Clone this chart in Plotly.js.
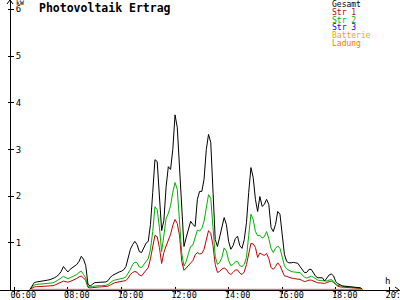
<!DOCTYPE html>
<html><head><meta charset="utf-8">
<script src="https://cdn.plot.ly/plotly-3.0.1.min.js"></script>
<style>html,body{margin:0;padding:0;background:#fff}#chart{width:400px;height:300px}</style>
</head><body><div id="chart"></div>
<script>
// ---- data (kW), sampled every 5 minutes from 06:35 ----
const DAY = '2024-06-15 ';
const firstSample = '06:35';
const sampleStepMin = 5;

const gesamt = [
  0, 0.08, 0.15, 0.16, 0.165, 0.17, 0.18, 0.19, 0.20, 0.21, 0.225, 0.25,
  0.28, 0.32, 0.385, 0.49, 0.43, 0.375, 0.43, 0.47, 0.50, 0.535, 0.60, 0.71,
  0.65, 0.51, 0.11, 0.075, 0.11, 0.145, 0.15, 0.15, 0.15, 0.155, 0.16, 0.19,
  0.26, 0.30, 0.33, 0.36, 0.375, 0.39, 0.42, 0.49, 0.66, 0.86, 0.96, 1.03,
  0.96, 0.81, 0.79, 0.90, 0.99, 1.03, 1.39, 2.08, 2.78, 2.74, 1.93, 1.26,
  1.48, 2.20, 2.63, 2.57, 3.0, 3.74, 3.47, 2.61, 1.50, 0.92, 1.11, 1.28,
  1.46, 1.39, 1.35, 1.93, 2.10, 2.10, 2.36, 3.0, 3.32, 3.15, 2.03, 1.07,
  0.92, 1.13, 1.33, 1.54, 1.39, 1.03, 0.86, 0.94, 1.09, 1.14, 0.94, 0.88,
  1.07, 1.43, 2.08, 2.61, 2.40, 1.93, 1.67, 1.99, 1.78, 1.82, 1.93, 1.82,
  1.33, 1.24, 1.39, 1.67, 1.61, 1.24, 0.75, 0.60, 0.57, 0.57, 0.58, 0.57,
  0.56, 0.49, 0.41, 0.36, 0.365, 0.43, 0.43, 0.35, 0.28, 0.25, 0.25, 0.25,
  0.18, 0.235, 0.31, 0.33, 0.29, 0.17, 0.12, 0.10, 0.075, 0.07, 0.065, 0.065,
  0.06, 0.058, 0.055, 0.045, 0.035, 0
];
const str1 = [
  0, 0.032, 0.054, 0.058, 0.06, 0.062, 0.064, 0.066, 0.068, 0.07, 0.08, 0.09,
  0.107, 0.128, 0.156, 0.178, 0.165, 0.156, 0.17, 0.19, 0.214, 0.235, 0.27, 0.285,
  0.25, 0.19, 0.043, 0.032, 0.039, 0.047, 0.051, 0.054, 0.054, 0.056, 0.058, 0.07,
  0.096, 0.122, 0.143, 0.154, 0.165, 0.17, 0.18, 0.19, 0.246, 0.32, 0.364, 0.385,
  0.368, 0.31, 0.29, 0.343, 0.396, 0.47, 0.66, 0.92, 1.16, 1.13, 0.90, 0.556,
  0.79, 0.93, 1.05, 1.18, 1.37, 1.50, 1.41, 1.16, 0.60, 0.41, 0.46, 0.51,
  0.58, 0.62, 0.74, 0.79, 0.76, 0.77, 0.86, 1.05, 1.26, 1.20, 0.94, 0.535,
  0.364, 0.385, 0.44, 0.46, 0.43, 0.353, 0.32, 0.364, 0.418, 0.418, 0.353, 0.32,
  0.375, 0.535, 0.79, 0.985, 0.975, 0.90, 0.685, 0.78, 0.75, 0.73, 0.77, 0.66,
  0.47, 0.43, 0.49, 0.57, 0.51, 0.41, 0.29, 0.28, 0.257, 0.246, 0.235, 0.23,
  0.225, 0.214, 0.19, 0.17, 0.18, 0.20, 0.20, 0.18, 0.15, 0.14, 0.14, 0.14,
  0.128, 0.15, 0.17, 0.178, 0.15, 0.096, 0.064, 0.054, 0.047, 0.043, 0.043, 0.039,
  0.036, 0.034, 0.032, 0.028, 0.021, 0
];
const str2 = [
  0, 0.055, 0.096, 0.107, 0.11, 0.115, 0.12, 0.122, 0.125, 0.128, 0.14, 0.155,
  0.18, 0.21, 0.245, 0.28, 0.25, 0.23, 0.25, 0.275, 0.29, 0.32, 0.365, 0.39,
  0.32, 0.245, 0.064, 0.054, 0.064, 0.075, 0.08, 0.081, 0.081, 0.083, 0.086, 0.107,
  0.15, 0.18, 0.20, 0.21, 0.225, 0.235, 0.245, 0.27, 0.34, 0.43, 0.535, 0.585,
  0.57, 0.48, 0.47, 0.535, 0.59, 0.66, 0.86, 1.24, 1.77, 1.71, 1.33, 0.81,
  1.16, 1.52, 1.63, 1.80, 2.08, 2.29, 2.14, 1.54, 0.77, 0.50, 0.60, 0.77,
  0.92, 0.95, 1.13, 1.27, 1.25, 1.31, 1.46, 1.76, 2.03, 1.95, 1.35, 0.71,
  0.535, 0.58, 0.685, 0.89, 0.82, 0.62, 0.51, 0.535, 0.59, 0.60, 0.51, 0.49,
  0.535, 0.685, 1.16, 1.61, 1.50, 1.24, 1.15, 1.16, 1.10, 1.13, 1.24, 1.09,
  0.88, 0.79, 0.88, 0.93, 0.88, 0.685, 0.51, 0.44, 0.41, 0.385, 0.375, 0.37,
  0.365, 0.36, 0.31, 0.26, 0.245, 0.27, 0.285, 0.26, 0.225, 0.20, 0.19, 0.185,
  0.17, 0.18, 0.20, 0.21, 0.18, 0.12, 0.086, 0.075, 0.064, 0.06, 0.058, 0.054,
  0.05, 0.047, 0.043, 0.036, 0.028, 0
];
// series that stay at zero all day
const flatTimes = ['06:35', '19:00'];
const str3 = [0, 0];
const batterie = [0, 0];
const ladung = [0, 0];

const seriesNames  = ['Gesamt', 'Str 1', 'Str 2', 'Str 3', 'Batterie', 'Ladung'];
const seriesColors = ['#000000', '#c00000', '#00b000', '#0000ff', '#ffa000', '#ff7800'];
const hourTicks = ['06:00', '08:00', '10:00', '12:00', '14:00', '16:00', '18:00', '20:00'];
const yTicks = [1, 2, 3, 4, 5, 6];
const chartTitle = 'Photovoltaik Ertrag';
const yUnit = 'kW';
const xUnit = 'h';

// ---- build ----
function toMin(hm) { const p = hm.split(':'); return (+p[0]) * 60 + (+p[1]); }
function fmt(min) {
  const h = Math.floor(min / 60), m = min % 60;
  return DAY + String(h).padStart(2, '0') + ':' + String(m).padStart(2, '0');
}
const t0 = toMin(firstSample);
const times = gesamt.map((_, i) => fmt(t0 + i * sampleStepMin));
const flatX = flatTimes.map(s => DAY + s);

const FONT = 'DejaVu Sans Mono';
const W = 400, H = 300, MB = 10, PH = H - MB;
const yAxisPx = 10;
const xRange = [DAY + '05:27:58', DAY + '20:23:50'];
const yRange = [-0.012, 6.2];

function line(x, y, idx) {
  return { x: x, y: y, type: 'scatter', mode: 'lines', name: seriesNames[idx],
           line: { color: seriesColors[idx], width: 1 }, hoverinfo: 'skip', showlegend: false };
}
const traces = [
  line(flatX, str3, 3),
  line(times, str1, 1),
  line(times, str2, 2),
  line(times, gesamt, 0),
  line(flatX, batterie, 4),
  line(flatX, ladung, 5),
  { x: [], y: [], xaxis: 'x2', yaxis: 'y2', type: 'scatter', mode: 'lines', showlegend: false, hoverinfo: 'skip' }
];

const annotations = seriesNames.map((n, i) => ({
  text: n, xref: 'paper', yref: 'paper', x: 330 / W, y: 1 - (4.5 + 7.8 * i) / PH,
  xanchor: 'left', yanchor: 'middle', showarrow: false,
  font: { family: FONT, size: 8, color: seriesColors[i] }
}));
annotations.push({ text: yUnit, xref: 'paper', yref: 'paper', x: 14 / W, y: 1 - 3 / PH,
  xanchor: 'left', yanchor: 'middle', showarrow: false, font: { family: FONT, size: 6.5, color: '#000' } });
annotations.push({ text: xUnit, xref: 'paper', yref: 'paper', x: 387 / W, y: 1 - 281 / PH,
  xanchor: 'center', yanchor: 'middle', showarrow: false, font: { family: FONT, size: 9, color: '#000' } });

const tickVals = hourTicks.map(s => DAY + s);
const layout = {
  width: W, height: H,
  margin: { l: 0, r: 0, t: 0, b: MB, pad: 0 },
  paper_bgcolor: '#fff', plot_bgcolor: '#fff',
  showlegend: false,
  title: { text: chartTitle, x: 39 / W, xanchor: 'left', xref: 'paper', y: 1 - 7.5 / H, yref: 'container', yanchor: 'middle',
           font: { family: FONT, size: 11.5, color: '#000', weight: 'bold' } },
  xaxis: {
    type: 'date', range: xRange, showgrid: false, zeroline: false,
    showline: true, linecolor: '#000', linewidth: 1, layer: 'below traces',
    ticks: 'outside', ticklen: 3, tickcolor: '#000', tickwidth: 1,
    tickvals: tickVals, ticktext: hourTicks, ticklabelshift: 9, ticklabelstandoff: -6,
    ticklabeloverflow: 'allow',
    tickfont: { family: FONT, size: 8.5, color: '#000' }, fixedrange: true
  },
  yaxis: {
    range: yRange, anchor: 'free', position: yAxisPx / W, side: 'right', showgrid: false, zeroline: false,
    showline: true, linecolor: '#000', linewidth: 1, layer: 'below traces',
    ticks: 'outside', ticklen: 3, tickcolor: '#000', tickwidth: 1,
    tickvals: yTicks, ticklabelstandoff: 0, ticklabeloverflow: 'allow',
    tickfont: { family: FONT, size: 9, color: '#000' }, fixedrange: true
  },
  xaxis2: {
    type: 'date', range: xRange, overlaying: 'x', anchor: 'y2', showgrid: false, zeroline: false,
    showline: false, ticks: 'inside', ticklen: 3, tickcolor: '#000', tickvals: tickVals,
    showticklabels: false, layer: 'below traces'
  },
  yaxis2: {
    range: yRange, overlaying: 'y', anchor: 'free', position: yAxisPx / W, side: 'right', showgrid: false, zeroline: false,
    showline: false, ticks: 'inside', ticklen: 2, tickcolor: '#000', tickvals: yTicks,
    showticklabels: false, layer: 'below traces'
  },
  annotations: annotations,
  shapes: [
    { type: 'path', xref: 'paper', yref: 'paper', xsizemode: 'pixel', ysizemode: 'pixel',
      xanchor: yAxisPx / W, yanchor: 1, path: 'M -3,-4 L 0,0 L 3,-4', line: { color: '#000', width: 1 } },
    { type: 'path', xref: 'paper', yref: 'paper', xsizemode: 'pixel', ysizemode: 'pixel',
      xanchor: 399 / W, yanchor: 0, path: 'M -4,3 L 0,0 L -4,-3', line: { color: '#000', width: 1 } }
  ]
};

Plotly.newPlot('chart', traces, layout, { staticPlot: true, displayModeBar: false });
</script>
</body></html>
